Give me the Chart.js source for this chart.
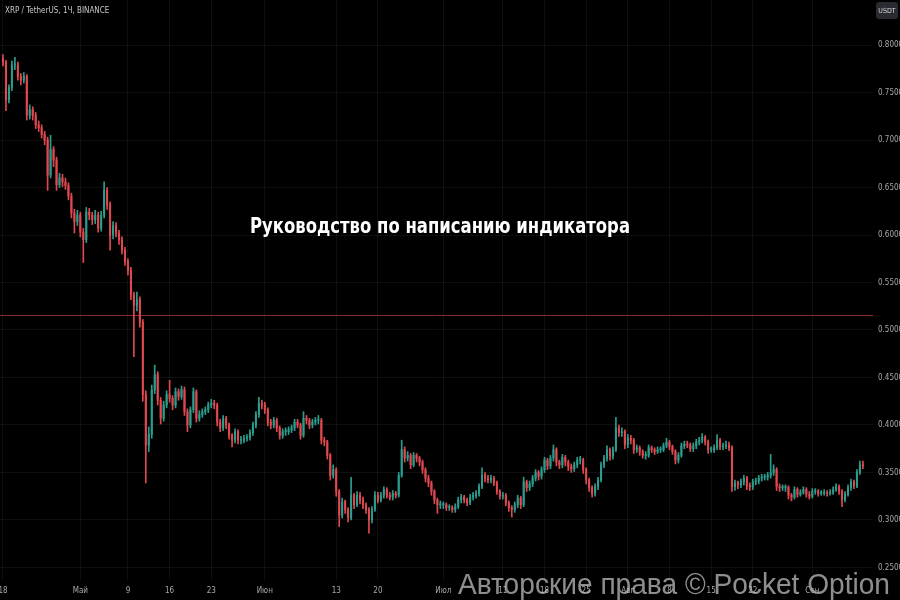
<!DOCTYPE html>
<html>
<head>
<meta charset="utf-8">
<script src="https://cdn.jsdelivr.net/npm/chart.js@4.4.1/dist/chart.umd.min.js"></script>
<style>
  html, body { margin: 0; padding: 0; background: #000; }
  canvas { display: block; }
</style>
</head>
<body>
<canvas id="chart" width="900" height="600"></canvas>
<script>
// XRP / TetherUS, 12h steps starting 18 Apr (index * 0.5 = day)
const firstOpen = 0.786;
const closes = [
  .782,.742,.755,.779,.779,.767,.763,.767,.726,.732,
  .726,.716,.713,.706,.700,.663,.690,.679,.653,.660,
  .656,.652,.641,.623,.614,.621,.603,.595,.624,.621,
  .616,.621,.607,.621,.647,.632,.600,.610,.602,.595,
  .584,.572,.563,.537,.526,.532,.508,.432,.379,.390,
  .437,.453,.426,.407,.421,.432,.428,.421,.435,.430,
  .437,.414,.400,.416,.435,.407,.411,.414,.416,.421,
  .423,.421,.403,.397,.407,.400,.389,.384,.393,.384,
  .384,.386,.387,.392,.400,.411,.423,.421,.416,.403,
  .400,.405,.397,.389,.393,.393,.395,.397,.403,.400,
  .389,.407,.405,.400,.403,.405,.405,.384,.382,.368,
  .347,.353,.330,.305,.319,.311,.302,.326,.316,.326,
  .321,.316,.311,.300,.311,.326,.321,.326,.332,.326,
  .324,.328,.326,.347,.374,.365,.368,.358,.368,.365,
  .361,.353,.344,.339,.330,.321,.316,.316,.316,.313,
  .313,.311,.314,.321,.324,.321,.318,.324,.326,.328,
  .335,.347,.344,.342,.344,.339,.330,.325,.326,.318,
  .313,.311,.316,.323,.316,.340,.334,.338,.344,.350,
  .346,.353,.363,.357,.365,.374,.361,.358,.366,.361,
  .356,.354,.358,.363,.363,.353,.342,.334,.328,.335,
  .342,.358,.365,.374,.367,.374,.397,.392,.393,.379,
  .386,.384,.374,.376,.372,.368,.368,.376,.374,.372,
  .374,.374,.378,.382,.377,.372,.363,.368,.378,.380,
  .379,.375,.378,.382,.384,.387,.382,.374,.374,.376,
  .384,.377,.378,.379,.376,.335,.339,.337,.340,.344,
  .336,.335,.340,.341,.344,.345,.345,.347,.350,.353,
  .335,.334,.334,.334,.326,.324,.332,.327,.329,.332,
  .327,.325,.330,.330,.328,.328,.329,.328,.329,.332,
  .335,.330,.321,.327,.334,.340,.336,.350,.358,.357
];
const highs = [
  .790,.784,.758,.783,.787,.782,.770,.771,.769,.737,
  .735,.729,.720,.716,.709,.703,.705,.693,.682,.665,
  .664,.660,.655,.644,.627,.626,.624,.607,.629,.628,
  .624,.626,.624,.625,.656,.650,.635,.614,.613,.605,
  .598,.587,.575,.566,.540,.540,.535,.511,.436,.398,
  .442,.463,.456,.429,.425,.436,.447,.431,.439,.438,
  .441,.440,.417,.419,.439,.437,.415,.417,.419,.424,
  .427,.426,.423,.406,.410,.409,.402,.391,.396,.395,
  .388,.389,.390,.395,.403,.414,.429,.426,.424,.418,
  .406,.408,.407,.399,.396,.397,.398,.400,.406,.406,
  .402,.414,.410,.407,.406,.408,.410,.407,.387,.384,
  .370,.358,.355,.332,.323,.321,.313,.345,.328,.330,
  .329,.324,.318,.313,.314,.330,.329,.329,.335,.334,
  .329,.331,.330,.350,.384,.377,.372,.370,.371,.370,
  .367,.363,.355,.347,.341,.332,.323,.320,.319,.318,
  .316,.315,.317,.324,.327,.326,.323,.327,.329,.331,
  .338,.355,.350,.347,.347,.346,.341,.332,.329,.328,
  .320,.315,.319,.326,.325,.345,.342,.341,.347,.353,
  .352,.356,.366,.365,.368,.379,.376,.363,.369,.368,
  .363,.359,.361,.366,.367,.365,.355,.344,.336,.338,
  .345,.361,.368,.378,.376,.377,.408,.400,.397,.395,
  .390,.389,.386,.379,.378,.374,.372,.379,.378,.376,
  .377,.377,.381,.386,.384,.379,.374,.371,.381,.383,
  .383,.381,.381,.385,.387,.391,.389,.384,.377,.379,
  .390,.386,.381,.383,.382,.378,.342,.341,.343,.347,
  .346,.339,.343,.344,.347,.348,.348,.350,.369,.358,
  .355,.338,.337,.337,.336,.328,.335,.334,.332,.335,
  .334,.330,.333,.333,.332,.331,.332,.331,.332,.335,
  .338,.337,.332,.330,.337,.343,.342,.353,.362,.362
];
const lows = [
  .778,.731,.739,.752,.774,.763,.758,.760,.721,.722,
  .721,.712,.709,.702,.695,.647,.660,.672,.647,.650,
  .651,.648,.637,.618,.602,.610,.598,.571,.592,.616,
  .611,.612,.603,.604,.618,.627,.584,.596,.598,.590,
  .580,.568,.558,.532,.472,.520,.503,.425,.339,.372,
  .386,.433,.421,.401,.404,.418,.424,.416,.418,.426,
  .427,.410,.393,.397,.413,.403,.404,.408,.411,.413,
  .418,.417,.399,.393,.394,.396,.385,.377,.381,.380,
  .380,.381,.383,.384,.389,.397,.408,.417,.412,.399,
  .396,.397,.393,.385,.386,.389,.390,.392,.394,.397,
  .385,.387,.401,.396,.397,.400,.401,.380,.378,.364,
  .342,.344,.325,.293,.302,.307,.298,.300,.312,.314,
  .317,.312,.307,.286,.297,.309,.318,.319,.323,.323,
  .321,.321,.323,.324,.345,.361,.362,.354,.356,.361,
  .357,.349,.340,.335,.326,.317,.307,.312,.312,.310,
  .310,.308,.308,.312,.318,.318,.315,.316,.321,.323,
  .325,.333,.340,.339,.339,.336,.327,.322,.322,.315,
  .309,.303,.308,.313,.312,.314,.330,.331,.335,.341,
  .342,.343,.350,.353,.354,.362,.357,.354,.355,.357,
  .352,.350,.351,.355,.359,.349,.338,.330,.324,.325,
  .332,.340,.355,.362,.363,.364,.372,.388,.388,.375,
  .376,.380,.370,.371,.368,.365,.364,.366,.371,.369,
  .370,.371,.372,.376,.374,.369,.359,.360,.366,.375,
  .376,.372,.372,.375,.379,.381,.379,.370,.371,.371,
  .374,.374,.374,.375,.373,.330,.331,.333,.334,.337,
  .332,.331,.332,.337,.338,.341,.342,.342,.344,.347,
  .331,.330,.331,.330,.322,.320,.322,.324,.325,.327,
  .324,.322,.323,.327,.325,.326,.326,.325,.326,.327,
  .330,.327,.314,.319,.325,.331,.333,.334,.348,.354
];
const opens = closes.map((c, i) => (i === 0 ? firstOpen : closes[i - 1]));
const days = closes.map((c, i) => i * 0.5);

const timeTicks  = [0, 13, 21, 28, 35, 44, 56, 63, 74, 84, 91, 98, 105, 112, 119, 126, 136];
const timeLabels = ['18', 'Май', '9', '16', '23', 'Июн', '13', '20', 'Июл', '11', '18', '25', 'Авг', '8', '15', '22', 'Сен'];
const priceTicks = [0.25, 0.30, 0.35, 0.40, 0.45, 0.50, 0.55, 0.60, 0.65, 0.70, 0.75, 0.80];
const levelPrice = 0.5158;

const symbolText = 'XRP / TetherUS, 1Ч, BINANCE';
const titleText = 'Руководство по написанию индикатора';
const watermarkText = 'Авторские права © Pocket Option';

const UP = '#2a9d8f';
const DOWN = '#e0494f';
const candleColor = (c) => (closes[c.dataIndex] >= opens[c.dataIndex] ? UP : DOWN);
const NARROW = '"Liberation Sans Narrow", "DejaVu Sans Condensed", sans-serif';

// draw text squeezed to a given width
function fitText(ctx, text, cx, cy, width) {
  const w = ctx.measureText(text).width;
  ctx.save();
  ctx.translate(cx, cy);
  ctx.scale(width / w, 1);
  ctx.fillText(text, 0, 0);
  ctx.restore();
}

// keep the plot flush with the canvas edges
const noPad = (s) => {
  s.paddingLeft = 0; s.paddingRight = 0; s.paddingTop = 0; s.paddingBottom = 0;
};

const overlay = {
  id: 'overlay',
  beforeDatasetsDraw(chart) {
    const { ctx, chartArea, scales } = chart;
    const y = Math.round(scales.y.getPixelForValue(levelPrice)) + 0.5;
    ctx.save();
    ctx.strokeStyle = '#8e2b2b';
    ctx.lineWidth = 1;
    ctx.beginPath();
    ctx.moveTo(chartArea.left, y);
    ctx.lineTo(chartArea.right, y);
    ctx.stroke();
    ctx.restore();
  },
  afterDraw(chart) {
    const { ctx } = chart;
    ctx.save();
    // symbol line
    ctx.fillStyle = '#c8c8c8';
    ctx.font = '8px ' + NARROW;
    ctx.textBaseline = 'middle';
    ctx.textAlign = 'left';
    ctx.fillText(symbolText, 5, 11);

    // currency badge
    ctx.fillStyle = '#2a2b30';
    ctx.beginPath();
    ctx.roundRect(876, 2, 22, 17, 3);
    ctx.fill();
    ctx.fillStyle = '#d8d8d8';
    ctx.font = '7px ' + NARROW;
    ctx.textAlign = 'center';
    ctx.fillText('USDT', 887, 11);

    // title
    ctx.fillStyle = '#ffffff';
    ctx.font = 'bold 22px ' + NARROW;
    ctx.textAlign = 'center';
    fitText(ctx, titleText, 440, 227, 380);

    // watermark
    ctx.fillStyle = 'rgba(190,190,190,0.75)';
    ctx.font = '29px "Liberation Sans", Arial, sans-serif';
    ctx.textAlign = 'center';
    ctx.textBaseline = 'alphabetic';
    fitText(ctx, watermarkText, 674, 594, 432);
    ctx.restore();
  }
};

new Chart(document.getElementById('chart'), {
  type: 'bar',
  data: {
    datasets: [
      {
        label: 'wicks',
        data: days.map((d, i) => ({ x: d, y: [lows[i], highs[i]] })),
        backgroundColor: candleColor,
        barThickness: 1,
        grouped: false,
        order: 2
      },
      {
        label: 'bodies',
        data: days.map((d, i) => ({ x: d, y: [opens[i], closes[i]] })),
        backgroundColor: candleColor,
        barThickness: 1.4,
        minBarLength: 1,
        grouped: false,
        order: 1
      }
    ]
  },
  options: {
    responsive: false,
    animation: false,
    layout: { padding: 0, autoPadding: false },
    plugins: { legend: { display: false }, tooltip: { enabled: false } },
    scales: {
      x: {
        type: 'linear',
        min: -0.5,
        max: 146.2,
        offset: false,
        border: { display: false },
        grid: { color: 'rgba(255,255,255,0.06)', drawTicks: false, offset: false },
        afterBuildTicks: (s) => { s.ticks = timeTicks.map((v) => ({ value: v })); },
        afterFit: (s) => { s.height = 20; noPad(s); },
        ticks: {
          autoSkip: false,
          maxRotation: 0,
          padding: 6,
          color: '#a8a8a8',
          font: { size: 8, family: NARROW },
          callback: (v) => timeLabels[timeTicks.indexOf(v)]
        }
      },
      y: {
        position: 'right',
        min: 0.2368,
        max: 0.8474,
        border: { display: false },
        grid: { color: 'rgba(255,255,255,0.06)', drawTicks: false },
        afterBuildTicks: (s) => { s.ticks = priceTicks.map((v) => ({ value: v })); },
        afterFit: (s) => { s.width = 27; noPad(s); },
        ticks: {
          padding: 5,
          color: '#a8a8a8',
          font: { size: 8, family: NARROW },
          callback: (v) => v.toFixed(4)
        }
      }
    }
  },
  plugins: [overlay]
});
</script>
</body>
</html>
